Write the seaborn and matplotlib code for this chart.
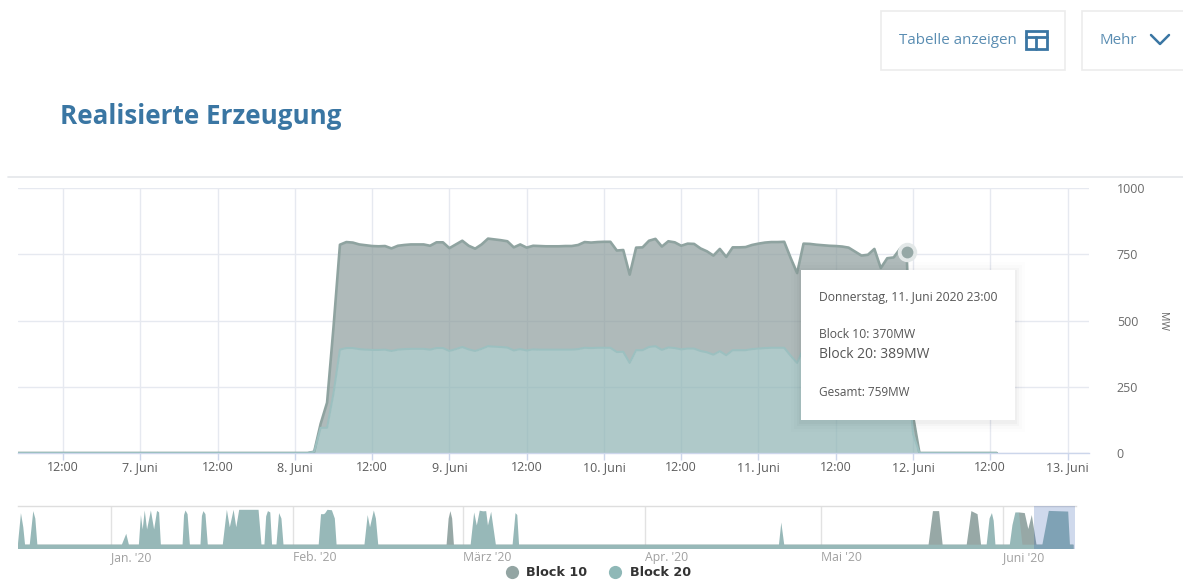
import numpy as np
import pandas as pd
import matplotlib
matplotlib.use("Agg")
import matplotlib.pyplot as plt
from matplotlib.lines import Line2D
from matplotlib.patches import Rectangle
from matplotlib.transforms import ScaledTranslation
import seaborn as sns

# ---------- data ----------
zero_hours_before = [0] * 43      # 6 June 05:00 .. 7 June 23:00
zero_hours_after = [0] * 12       # 12 June 02:00 .. 13:00

block_20 = [
    0, 0, 0, 5, 95, 95, 225, 390, 396, 396, 392, 390, 389, 389, 390, 385, 390, 392, 393, 393, 393, 390, 396, 396,
    385, 392, 400, 391, 385, 393, 403, 401, 400, 398, 387, 392, 387, 391, 390, 390, 390, 390, 390, 390, 392, 397, 396, 397,
    397, 397, 381, 382, 340, 388, 388, 400, 403, 389, 398, 396, 391, 394, 394, 385, 380, 371, 384, 369, 388, 388, 388, 392,
    394, 396, 397, 397, 397, 367, 340, 394, 394, 392, 391, 390, 390, 389, 387, 380, 372, 374, 385, 349, 367, 369, 385, 389,
    72, 0]
block_10 = [
    0, 0, 0, 0, 15, 95, 250, 396, 400, 398, 395, 394, 392, 391, 391, 387, 392, 393, 394, 394, 394, 392, 399, 399,
    388, 395, 401, 391, 386, 394, 406, 405, 403, 401, 389, 395, 388, 391, 391, 390, 390, 390, 391, 391, 393, 399, 398, 399,
    400, 400, 383, 384, 333, 387, 388, 401, 405, 390, 401, 399, 391, 396, 395, 387, 381, 374, 386, 371, 388, 388, 389, 393,
    396, 398, 399, 399, 400, 369, 339, 396, 395, 394, 393, 392, 391, 390, 388, 380, 373, 374, 385, 349, 368, 369, 386, 370,
    68, 0]

main_hour_ticks = ["2020-06-06 12:00", "2020-06-07 00:00", "2020-06-07 12:00", "2020-06-08 00:00",
                   "2020-06-08 12:00", "2020-06-09 00:00", "2020-06-09 12:00", "2020-06-10 00:00",
                   "2020-06-10 12:00", "2020-06-11 00:00", "2020-06-11 12:00", "2020-06-12 00:00",
                   "2020-06-12 12:00", "2020-06-13 00:00"]
main_tick_labels = ["12:00", "7. Juni", "12:00", "8. Juni", "12:00", "9. Juni", "12:00", "10. Juni",
                    "12:00", "11. Juni", "12:00", "12. Juni", "12:00", "13. Juni"]
y_ticks = [0, 250, 500, 750, 1000]

# overview: days after 1 Jan 2020, MW
overview_days_20 = [-16.0, -15.5, -15.1, -14.8, -14.0, -13.4, -13.05, -12.7, 1.7, 2.45, 2.9, 4.6, 4.95, 5.25, 5.6, 6.0,
                    6.65, 7.2, 7.7, 8.05, 8.35, 12.05, 12.3, 12.55, 12.9, 13.3, 15.1, 15.35, 15.6, 15.95, 16.35, 18.9, 19.6, 20.1,
                    20.75, 21.2, 21.7, 25.0, 25.5, 26.0, 26.3, 26.6, 27.0, 27.3, 28.05, 28.5, 28.9, 29.25, 35.25, 35.65, 36.15, 36.35,
                    36.75, 37.5, 38.0, 38.3, 43.05, 43.6, 44.0, 44.65, 45.0, 45.4, 61.15, 61.75, 62.2, 62.7, 63.3, 63.8,
                    64.1, 64.65, 65.45, 68.3, 68.8, 69.1, 69.4, 113.7, 114.1, 114.6, 149.1, 149.6, 150.0, 150.3, 150.6, 153.05, 153.5, 154.0,
                    154.6, 155.2, 158.6, 159.7, 163.0, 163.3, 163.9]
overview_mw_20 = [30, 725, 400, 0, 0, 770, 600, 0, 0, 250, 0, 0, 680, 350, 785, 350,
                  785, 350, 775, 740, 0, 0, 680, 785, 700, 0, 0, 660, 770, 700, 0, 0, 800, 400,
                  800, 400, 800, 800, 0, 0, 650, 770, 740, 0, 0, 725, 600, 0, 0, 700, 700, 720,
                  800, 790, 600, 0, 0, 680, 400, 785, 600, 0, 0, 740, 440, 780, 765, 770,
                  440, 755, 0, 0, 725, 680, 0, 0, 510, 0, 0, 600, 725, 550, 0, 0, 450, 740,
                  740, 0, 0, 775, 760, 0, 0]
overview_days_10 = [-16.0, 57.05, 57.4, 57.7, 58.0, 58.3, 139.2, 139.95, 141.0, 141.6, 145.7, 146.5, 147.55, 148.15,
                    154.0, 154.6, 155.6, 156.2, 156.8, 157.6, 163.9]
overview_mw_10 = [0, 0, 600, 770, 600, 0, 0, 770, 770, 0, 0, 770, 700, 0,
                  0, 740, 725, 360, 680, 0, 0]
overview_ticks = ["2020-01-01", "2020-02-01", "2020-03-01", "2020-04-01", "2020-05-01", "2020-06-01"]
overview_labels = ["Jan. '20", "Feb. '20", "März '20", "Apr. '20", "Mai '20", "Juni '20"]

# ---------- style ----------
sns.set_theme(style="white")
FONT = ["Open Sans", "DejaVu Sans"]
plt.rcParams["font.family"] = FONT

W, H = 1183, 581
GREY, TEAL = "#8b9c9b", "#8db3b3"
GRID = "#e6e9f0"
AXIS = "#ccd6eb"
BLUE = "#3a76a3"


def px_axes(fig, left, top, right, bottom, **kw):
    return fig.add_axes([left / W, 1 - bottom / H, (right - left) / W, (bottom - top) / H], **kw)


fig = plt.figure(figsize=(W / 100, H / 100), dpi=100, facecolor="white")

# ---------- main chart ----------
ax = px_axes(fig, 18, 188, 1089, 453)
hours = pd.date_range("2020-06-06 05:00", periods=len(zero_hours_before) + len(block_20) + len(zero_hours_after), freq="h")
b20 = np.array(zero_hours_before + block_20 + zero_hours_after, dtype=float)
b10 = np.array(zero_hours_before + block_10 + zero_hours_after, dtype=float)
df = pd.DataFrame({"time": hours, "Block 20": b20, "Gesamt": b10 + b20})

ax.fill_between(df["time"], df["Block 20"], df["Gesamt"], color=GREY, alpha=0.69, lw=0, zorder=2)
ax.fill_between(df["time"], 0, df["Block 20"], color=TEAL, alpha=0.70, lw=0, zorder=2)
sns.lineplot(data=df, x="time", y="Gesamt", ax=ax, color="#8fa3a0", lw=1.9, zorder=3, legend=False, errorbar=None)
sns.lineplot(data=df, x="time", y="Block 20", ax=ax, color="#9cc0c0", lw=1.5, zorder=3, legend=False, errorbar=None)

marker_t = pd.Timestamp("2020-06-11 23:00")
marker_v = float(df.loc[df["time"] == marker_t, "Gesamt"].iloc[0])
ax.plot([marker_t], [marker_v], "o", ms=14, color="#e3e8e8", mec="none", zorder=5, clip_on=False)
ax.plot([marker_t], [marker_v], "o", ms=8.5, color="#96a8a6", mec="none", zorder=6, clip_on=False)

ax.set_xlim(pd.Timestamp("2020-06-06 05:00"), pd.Timestamp("2020-06-13 03:20"))
ax.set_ylim(0, 1000)
tick_dates = pd.to_datetime(main_hour_ticks)
ax.set_xticks(tick_dates)
ax.set_xticklabels(main_tick_labels, fontsize=9, color="#5c5c5c")
ax.set_yticks(y_ticks)
ax.set_yticklabels([str(v) for v in y_ticks], fontsize=9, color="#6a6a6a", ha="left")
ax.yaxis.tick_right()
ax.tick_params(axis="y", length=0, pad=20)
ax.tick_params(axis="x", length=5, width=1, color=AXIS, pad=1, bottom=True)
ax.set_xlabel("")
ax.set_ylabel("")
ax.grid(True, color=GRID, lw=1)
ax.set_axisbelow(True)
for s in ["top", "left", "right"]:
    ax.spines[s].set_visible(False)
ax.spines["bottom"].set_color(AXIS)
ax.spines["bottom"].set_linewidth(1)

# ---------- overview ----------
ov = px_axes(fig, 18, 506, 1076, 548.5)
start = pd.Timestamp("2020-01-01")
d20 = start + pd.to_timedelta(overview_days_20, unit="D")
d10 = start + pd.to_timedelta(overview_days_10, unit="D")
BASE = -99
ov.fill_between(d10, BASE, overview_mw_10, color="#97a8a6", lw=0, zorder=2)
ov.fill_between(d20, BASE, overview_mw_20, color="#97b8b8", lw=0, zorder=3)
ov.set_xlim(pd.Timestamp("2019-12-16 02:00"), pd.Timestamp("2020-06-13 10:00"))
ov.set_ylim(BASE, 876)
ov.axvspan(pd.Timestamp("2020-06-06 05:00"), pd.Timestamp("2020-06-13 06:00"), color="#335cad", alpha=0.23, lw=0, zorder=4)
ov.set_xticks(pd.to_datetime(overview_ticks))
ov.set_xticklabels(overview_labels, fontsize=8.8, color="#a0a0a0", ha="left")
shift = ScaledTranslation(3 / 100, 0, fig.dpi_scale_trans)
for lab in ov.get_xticklabels():
    lab.set_transform(lab.get_transform() + shift)
ov.set_yticks([])
ov.tick_params(axis="x", length=0, pad=1.5)
ov.grid(True, axis="x", color="#e2e2e2", lw=1)
ov.set_axisbelow(True)
for s in ["left", "right", "bottom"]:
    ov.spines[s].set_visible(False)
ov.spines["top"].set_color("#dedede")
ov.spines["top"].set_linewidth(1)
ov.set_xlabel("")

# ---------- page furniture ----------
ui = px_axes(fig, 0, 0, W, H, zorder=10)
ui.set_xlim(0, W)
ui.set_ylim(H, 0)
ui.axis("off")
ui.patch.set_alpha(0)

ui.text(60, 116, "Realisierte Erzeugung", fontsize=18.7, fontweight="bold", color=BLUE, va="center", family=FONT)
ui.plot([8, 1183], [177, 177], color="#e4e6ea", lw=1.2)
ui.text(1163, 321, "MW", fontsize=7.5, color="#666666", rotation=270, ha="center", va="center")

for x0, x1 in [(881, 1065), (1082, 1190)]:
    ui.add_patch(Rectangle((x0, 11), x1 - x0, 59, fc="white", ec="#ececec", lw=1.2))
ui.text(899, 40, "Tabelle anzeigen", fontsize=10.9, color="#5a8db2", va="center")
ui.text(1100, 40, "Mehr", fontsize=10.9, color="#5a8db2", va="center")
ui.add_patch(Rectangle((1026, 31), 21, 18, fc="none", ec=BLUE, lw=2))
ui.plot([1026, 1047], [37, 37], color=BLUE, lw=2)
ui.plot([1036, 1036], [37, 49], color=BLUE, lw=2)
ui.plot([1151, 1160, 1169], [35, 44, 35], color=BLUE, lw=1.8)

# tooltip
for grow, a in [(10, 0.008), (7, 0.012), (4, 0.018), (2, 0.022)]:
    ui.add_patch(Rectangle((801 - grow, 270 - grow + 2), 214 + 2 * grow, 150 + 2 * grow, fc="black", ec="none", alpha=a))
ui.add_patch(Rectangle((801, 270), 214, 150, fc="white", ec="none"))
tip = "#555555"
ui.text(819, 297, "Donnerstag, 11. Juni 2020 23:00", fontsize=8.7, color=tip, va="center")
ui.text(819, 335, "Block 10: 370MW", fontsize=8.7, color=tip, va="center")
ui.text(819, 354, "Block 20: 389MW", fontsize=10, color=tip, va="center")
ui.text(819, 393, "Gesamt: 759MW", fontsize=8.5, color=tip, va="center")

# legend
handles = [Line2D([], [], marker="o", ls="", ms=9.5, color="#93a5a3", mec="none"),
           Line2D([], [], marker="o", ls="", ms=9.5, color="#8fb8b7", mec="none")]
leg = fig.legend(handles, ["Block 10", "Block 20"], ncol=2, frameon=False,
                 loc="center", bbox_to_anchor=(595 / W, 1 - 573 / H),
                 prop={"family": "DejaVu Sans", "weight": "bold", "size": 9.2},
                 handletextpad=0.1, columnspacing=1.2, borderpad=0, labelspacing=0)
for t in leg.get_texts():
    t.set_color("#333333")

fig.savefig("out.png", dpi=100)
